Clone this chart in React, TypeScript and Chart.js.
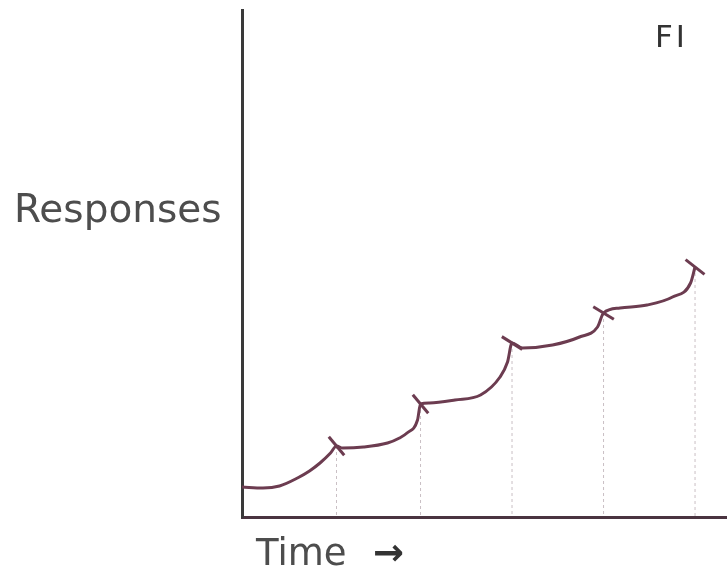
import React, { useEffect, useRef } from "react";
import { Chart, registerables } from "chart.js";

Chart.register(...registerables);

// Cumulative record under a fixed-interval (FI) schedule
const timeSec = [0, 14, 25, 37, 45, 52, 59, 63, 67, 81, 97, 105, 110, 117, 119, 125, 142, 159, 172, 177, 180, 187, 207, 225, 237, 241, 252, 270, 287, 299, 302];
const responses = [7.5, 7.25, 7.75, 9.75, 11.5, 13.5, 16, 17.75, 17.25, 17.5, 18.5, 19.75, 21, 24.25, 28.25, 28.5, 29.25, 30.5, 35, 38.75, 43.5, 42.25, 43, 45, 47.5, 51, 52.25, 53, 55, 58.5, 62.5];

// Reinforcement deliveries (hash marks)
const reinfTimes = [63, 119, 180, 241, 302];
const reinfCounts = [17.75, 28.25, 43.5, 51, 62.5];

const xMax = 323.3;
const yMax = 126.75;

const hashRotation = [50, 50, 32, 31, 38];
const inkColor = "#6c3c50";

export default function App() {
  const canvasRef = useRef<HTMLCanvasElement | null>(null);

  useEffect(() => {
    if (!canvasRef.current) return;
    const curve = timeSec.map((t, i) => ({ x: t, y: responses[i] }));
    const marks = reinfTimes.map((t, i) => ({ x: t, y: reinfCounts[i] }));
    const drops: { x: number; y: number | null }[] = [];
    reinfTimes.forEach((t, i) => {
      drops.push({ x: t, y: reinfCounts[i] });
      drops.push({ x: t, y: 0 });
      drops.push({ x: t, y: null });
    });

    const chart = new Chart(canvasRef.current, {
      type: "line",
      data: {
        datasets: [
          {
            label: "reinforcement",
            data: marks as any,
            showLine: false,
            pointStyle: "line",
            pointRadius: 12,
            pointRotation: hashRotation as any,
            pointBorderColor: inkColor,
            pointBorderWidth: 3,
            borderColor: inkColor,
            clip: false as any,
            order: 0,
          },
          {
            label: "responses",
            data: curve as any,
            borderColor: inkColor,
            borderWidth: 3,
            pointRadius: 0,
            tension: 0.4,
            cubicInterpolationMode: "monotone",
            fill: false,
            order: 1,
          },
          {
            label: "drops",
            data: drops as any,
            borderColor: "rgba(150,130,140,0.5)",
            borderWidth: 1,
            borderDash: [3, 3],
            pointRadius: 0,
            spanGaps: false,
            tension: 0,
            order: 2,
          },
        ],
      },
      options: {
        animation: false,
        responsive: true,
        maintainAspectRatio: false,
        layout: { autoPadding: false, padding: { left: 242, top: 10, right: 0, bottom: 54 } },
        plugins: { legend: { display: false }, tooltip: { enabled: false } },
        scales: {
          x: {
            type: "linear",
            min: 0,
            max: xMax,
            grid: { display: false, drawTicks: false },
            ticks: { display: false },
            border: { display: true, color: "#4a3440", width: 3 },
          },
          y: {
            type: "linear",
            min: 0,
            max: yMax,
            grid: { display: false, drawTicks: false },
            ticks: { display: false },
            border: { display: true, color: "#3a3a3a", width: 3 },
          },
        },
      },
    });
    return () => chart.destroy();
  }, []);

  const textStyle: React.CSSProperties = {
    position: "absolute",
    fontFamily: "'DejaVu Sans', sans-serif",
    color: "#4d4d4d",
    lineHeight: 1,
    whiteSpace: "nowrap",
  };

  return (
    <div style={{ position: "fixed", left: 0, top: 0, width: 727, height: 571, background: "#fff" }}>
      <canvas ref={canvasRef} style={{ position: "absolute", left: 0, top: 0 }} />
      <div style={{ ...textStyle, left: 14, top: 189, fontSize: 39 }}>Responses</div>
      <div style={{ ...textStyle, left: 256, top: 534, fontSize: 37 }}>Time</div>
      <div style={{ ...textStyle, left: 373, top: 534, fontSize: 37, fontWeight: "bold", color: "#333" }}>→</div>
      <div style={{ ...textStyle, left: 655, top: 21, fontSize: 31, letterSpacing: 3, color: "#333" }}>FI</div>
    </div>
  );
}
